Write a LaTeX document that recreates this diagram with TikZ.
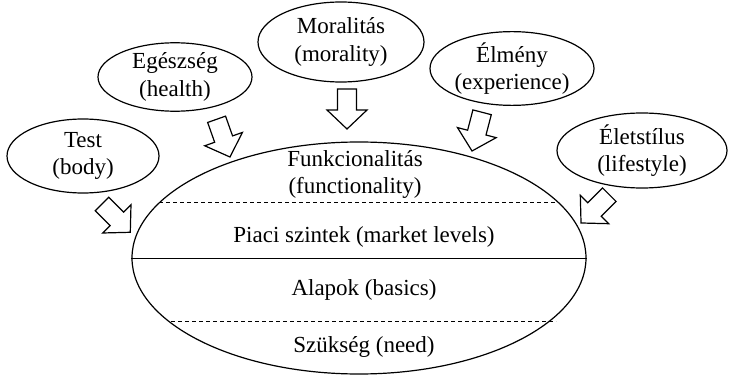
\documentclass[tikz,border=0pt]{standalone}
\usepackage{fontspec}
\setmainfont{Liberation Serif}
\usetikzlibrary{shapes.geometric}
\tikzset{
  every picture/.style={x=1pt,y=1pt},
  lbl/.style={font=\fontsize{23}{27}\selectfont, align=center, inner sep=0pt},
  oval/.style={draw, ellipse, line width=1.2pt, inner sep=0pt, align=center,
    font=\fontsize{23}{27.5}\selectfont},
  sep/.style={line width=0.9pt, dash pattern=on 4pt off 3pt},
  barrow/.pic={\draw[line width=1.2pt, fill=white, line join=miter]
    (0,-9.5) -- (21,-9.5) -- (21,-20) -- (40,0) -- (21,20) -- (21,9.5) -- (0,9.5) -- cycle;}
}
\begin{document}
\begin{tikzpicture}
\useasboundingbox (0,0) rectangle (733,375);
% core ellipse
\node[oval, minimum width=454pt, minimum height=232pt] (core) at (359,117) {};
\draw[line width=1pt] (core.west) -- (core.east);
\coordinate (d1l) at (159,173); \coordinate (d1r) at (558,173);
\coordinate (d2l) at (171,54);  \coordinate (d2r) at (556,54);
\draw[sep] (d1l) -- (d1r);
\draw[sep] (d2l) -- (d2r);
\node[lbl] (func) at (355,201) {Funkcionalitás\\(functionality)};
\node[lbl] (piaci) at (364,138) {Piaci szintek (market levels)};
\node[lbl] (alap) at (364,85) {Alapok (basics)};
\node[lbl] (szuk) at (364,28) {Szükség (need)};
% outer ellipses
\node[oval, minimum width=152pt, minimum height=74pt] (test) at (83,219) {Test\\(body)};
\node[oval, minimum width=154pt, minimum height=67pt] (eg) at (175,298) {Egészség\\(health)};
\node[oval, minimum width=166pt, minimum height=80pt] (mor) at (341,333) {Moralitás\\(morality)};
\node[oval, minimum width=164pt, minimum height=73pt] (elm) at (512,306.5) {Élmény\\(experience)};
\node[oval, minimum width=170pt, minimum height=75pt] (elet) at (642,224.5) {Életstílus\\(lifestyle)};
% block arrows
\pic[rotate=-45] at (102,171) {barrow};
\pic[rotate=-70.5] at (216.6,255.7) {barrow};
\pic[rotate=-90] at (347,286) {barrow};
\pic[rotate=-104.6] at (482.1,262.7) {barrow};
\pic[rotate=-135] at (609.3,180.3) {barrow};
\end{tikzpicture}
\end{document}
